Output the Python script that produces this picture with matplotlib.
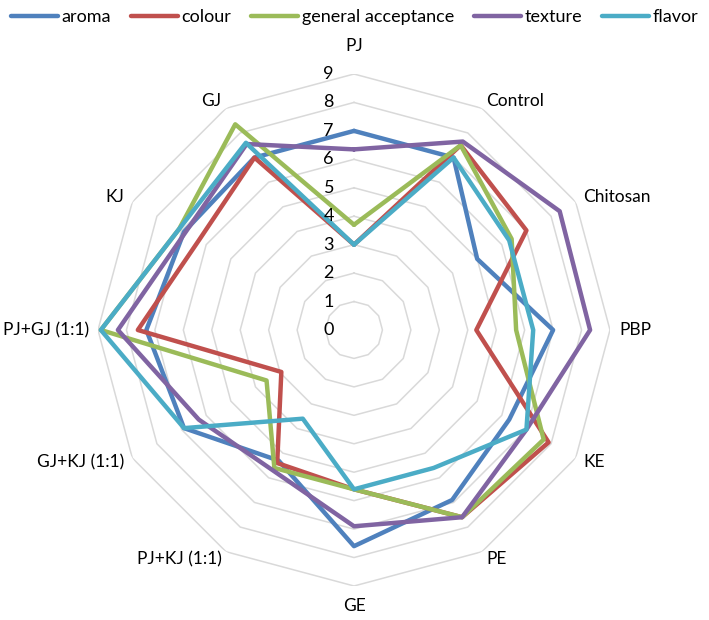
import matplotlib.pyplot as plt
import numpy as np

plt.rcParams["font.family"] = ["Lato", "DejaVu Sans"]

CATEGORIES = ["PJ", "Control", "Chitosan", "PBP", "KE", "PE", "GE",
              "PJ+KJ (1:1)", "GJ+KJ (1:1)", "PJ+GJ (1:1)", "KJ", "GJ"]

AROMA = [7.0, 7.0, 5.0, 7.0, 6.3, 6.9, 7.6, 5.3, 6.9, 7.3, 6.9, 7.0]
COLOUR = [3.0, 7.5, 7.0, 4.3, 7.9, 7.6, 5.6, 5.4, 2.95, 7.6, 6.3, 7.0]
GENERAL = [3.7, 7.5, 6.4, 5.7, 7.7, 7.6, 5.6, 5.6, 3.55, 8.9, 7.1, 8.35]
TEXTURE = [6.35, 7.65, 8.35, 8.3, 7.0, 7.6, 6.9, 5.7, 6.3, 8.3, 6.85, 7.55]
FLAVOR = [3.0, 7.0, 6.3, 6.3, 7.0, 5.6, 5.6, 3.6, 6.9, 8.9, 7.1, 7.6]

SERIES = [
    ("aroma", AROMA, "#4F81BD"),
    ("colour", COLOUR, "#C0504D"),
    ("general acceptance", GENERAL, "#9BBB59"),
    ("texture", TEXTURE, "#8064A2"),
    ("flavor", FLAVOR, "#4BACC6"),
]
RINGS = list(range(0, 10))


def close(vals):
    return list(vals) + [vals[0]]


fig = plt.figure(figsize=(7.09, 6.2), dpi=100)
ax = fig.add_axes([98 / 709, 34 / 620, 512 / 709, 512 / 620], projection="polar")
ax.set_theta_zero_location("N")
ax.set_theta_direction(-1)
ax.set_ylim(0, 9)
ax.set_xticks([])
ax.set_yticks([])
ax.grid(False)
ax.spines["polar"].set_visible(False)

n = len(CATEGORIES)
angles = np.arange(n) * 2 * np.pi / n
theta = close(angles)

# polygon rings, no spokes
for v in RINGS[1:]:
    ax.plot(theta, [v] * (n + 1), color="#D9D9D9", lw=1.1, zorder=1)

for name, vals, color in SERIES:
    ax.plot(theta, close(vals), color=color, lw=3.2, label=name,
            solid_joinstyle="round", solid_capstyle="round", zorder=3)

for v in RINGS:
    ax.annotate(str(v), xy=(0, v), xytext=(-20, 0), textcoords="offset pixels",
                ha="right", va="center", fontsize=13, color="black", zorder=4)

for ang, label in zip(angles, CATEGORIES):
    s, c = np.sin(ang), np.cos(ang)
    if abs(s) < 0.01:
        ha = "center"
        if c > 0:
            off, va = (0, 20), "bottom"
        else:
            off, va = (0, -12), "top"
    else:
        ha = "left" if s > 0 else "right"
        va = "center"
        off = (9 * s, 9 * c)
    ax.annotate(label, xy=(ang, 9), xytext=off, textcoords="offset pixels",
                ha=ha, va=va, fontsize=12.5, color="black", annotation_clip=False)

fig.legend(loc="upper center", bbox_to_anchor=(0.5, 1.0), ncol=5, frameon=False,
           fontsize=13, handlelength=2.6, handletextpad=0.2, columnspacing=1.1,
           borderaxespad=0.1)

fig.savefig("out.png", dpi=100)
